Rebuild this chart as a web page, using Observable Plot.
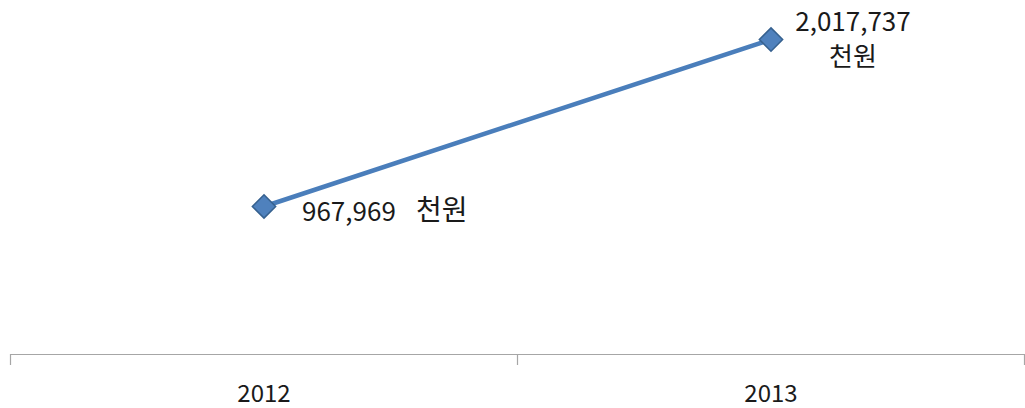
<!DOCTYPE html>
<html>
<head>
<meta charset="utf-8">
<script src="https://cdn.jsdelivr.net/npm/d3@7"></script>
<script src="https://cdn.jsdelivr.net/npm/@observablehq/plot@0.6"></script>
<style>
  body { margin: 0; background: #fff; }
  #chart svg { display: block; }
</style>
</head>
<body>
<div id="chart"></div>
<script>
const years = [2012, 2013];
const values = [967969, 2017737];
const unit = "천원";
const bandEdges = [2011.5, 2012.5, 2013.5];

const fmt = d3.format(",");
const data = years.map((y, i) => ({year: y, value: values[i], num: fmt(values[i]), unit, stacked: fmt(values[i]) + "\n" + unit}));

const font = "'Noto Sans CJK KR', 'Noto Sans', sans-serif";
const lineColor = "#4a7ebb";
const yBase = 37600;

const chart = Plot.plot({
  width: 1025,
  height: 408,
  marginLeft: 10,
  marginRight: 1,
  marginTop: 0,
  marginBottom: 54,
  style: {fontFamily: font, color: "#1a1a1a", background: "#fff"},
  x: {type: "linear", domain: [2011.5, 2013.5], axis: null},
  y: {domain: [yBase, 2262900], axis: null},
  marks: [
    Plot.ruleY([yBase], {x1: 2011.5, x2: 2013.5, stroke: "#a6a6a6", strokeWidth: 1.2}),
    Plot.axisX({ticks: bandEdges, tickSize: 11, tickFormat: () => "", label: null, stroke: "#a6a6a6", strokeWidth: 1.2}),
    Plot.axisX({ticks: years, tickSize: 0, tickPadding: 30, tickFormat: d => String(d), label: null, fontSize: 24, fill: "#1a1a1a"}),
    Plot.line(data, {x: "year", y: "value", stroke: lineColor, strokeWidth: 4.5}),
    Plot.dot(data, {x: "year", y: "value", symbol: "diamond2", r: 10.5, fill: "#4f81bd", stroke: "#36618f", strokeWidth: 1.5}),
    Plot.text([data[0]], {x: "year", y: "value", text: "num", textAnchor: "start", dx: 38, dy: 6, fontSize: 26, fill: "#1a1a1a"}),
    Plot.text([data[0]], {x: "year", y: "value", text: "unit", textAnchor: "start", dx: 152, dy: 5, fontSize: 28, fill: "#1a1a1a"}),
    Plot.text([data[1]], {x: "year", y: "value", text: "stacked", textAnchor: "middle", dx: 82, dy: -2, fontSize: 26, lineHeight: 1.35, fill: "#1a1a1a"})
  ]
});
document.getElementById("chart").appendChild(chart);
</script>
</body>
</html>
